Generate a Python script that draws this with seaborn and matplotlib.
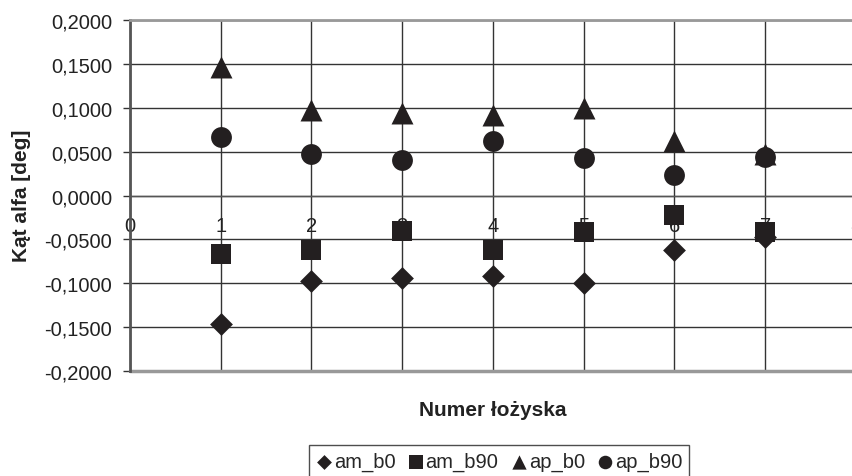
import numpy as np
import pandas as pd
import seaborn as sns
import matplotlib.pyplot as plt
from matplotlib.ticker import FuncFormatter

bearing = [1, 2, 3, 4, 5, 6, 7]
am_b0 = [-0.1465, -0.0970, -0.0945, -0.0915, -0.0998, -0.0620, -0.0470]
am_b90 = [-0.0668, -0.0620, -0.0400, -0.0620, -0.0420, -0.0220, -0.0420]
ap_b0 = [0.1465, 0.0970, 0.0945, 0.0920, 0.0998, 0.0622, 0.0476]
ap_b90 = [0.0672, 0.0478, 0.0402, 0.0623, 0.0429, 0.0236, 0.0438]

series = ["am_b0", "am_b90", "ap_b0", "ap_b90"]
markers = {"am_b0": "D", "am_b90": "s", "ap_b0": "^", "ap_b90": "o"}
sizes = {"am_b0": 135, "am_b90": 225, "ap_b0": 250, "ap_b90": 225}

df = pd.DataFrame({"bearing": bearing, "am_b0": am_b0, "am_b90": am_b90,
                   "ap_b0": ap_b0, "ap_b90": ap_b90})
long = df.melt(id_vars="bearing", var_name="series", value_name="alfa")

sns.set_style("white")
plt.rcParams['font.family'] = ['Liberation Sans', 'DejaVu Sans']

fig = plt.figure(figsize=(8.53, 4.77), dpi=100)
ax = fig.add_axes([130 / 853, 105 / 477, 726 / 853, 351 / 477])

ink = "#231f20"
for name in series:
    sub = long[long["series"] == name]
    sns.scatterplot(data=sub, x="bearing", y="alfa", marker=markers[name],
                    s=sizes[name], color=ink, edgecolor=ink, linewidth=0,
                    label=name, ax=ax, zorder=3)

ax.set_xlim(0, 8)
ax.set_ylim(-0.2, 0.2)
ax.set_xticks(range(0, 9))
ax.set_yticks(np.arange(-0.2, 0.2001, 0.05))
ax.yaxis.set_major_formatter(FuncFormatter(lambda v, p: f"{v:.4f}".replace(".", ",").replace("-0,0000", "0,0000")))
ax.grid(True, color="#333333", linewidth=1.0)
ax.set_axisbelow(True)

# x axis crosses at zero, plot area framed in grey
ax.spines["bottom"].set_position(("data", 0))
ax.spines["bottom"].set_color("#555555")
ax.spines["bottom"].set_linewidth(1.0)
ax.spines["left"].set_color("#555555")
ax.spines["left"].set_linewidth(2.0)
ax.spines["top"].set_color("#999999")
ax.spines["top"].set_linewidth(2.0)
ax.spines["right"].set_visible(False)
ax.axhline(-0.2, color="#999999", linewidth=2.5, zorder=2, clip_on=False)

ax.tick_params(axis="x", direction="inout", length=8, width=1, color="#333333",
               pad=11, labelsize=14.5, labelcolor="#222222")
ax.tick_params(axis="y", direction="out", length=5, width=1, color="#333333",
               pad=8, labelsize=14.5, labelcolor="#222222", left=True)
ax.set_xlabel("")
ax.set_ylabel("")

fig.text(493 / 853, 1 - 411 / 477, "Numer łożyska", ha="center", va="center",
         fontsize=15, fontweight="bold", color="#222222")
fig.text(22 / 853, 1 - 196 / 477, "Kąt alfa [deg]", ha="center", va="center",
         rotation=90, fontsize=15, fontweight="bold", color="#222222")

leg = ax.legend(loc="upper center", bbox_to_anchor=(499 / 853, 1 - 446 / 477),
                bbox_transform=fig.transFigure, ncol=4, frameon=True,
                fancybox=False, edgecolor="#222222", fontsize=14.5,
                markerscale=0.65, handletextpad=0.1, columnspacing=0.6,
                borderpad=0.35, handlelength=0.8, borderaxespad=0)
leg.get_frame().set_linewidth(1.0)

fig.savefig("out.png", dpi=100)
